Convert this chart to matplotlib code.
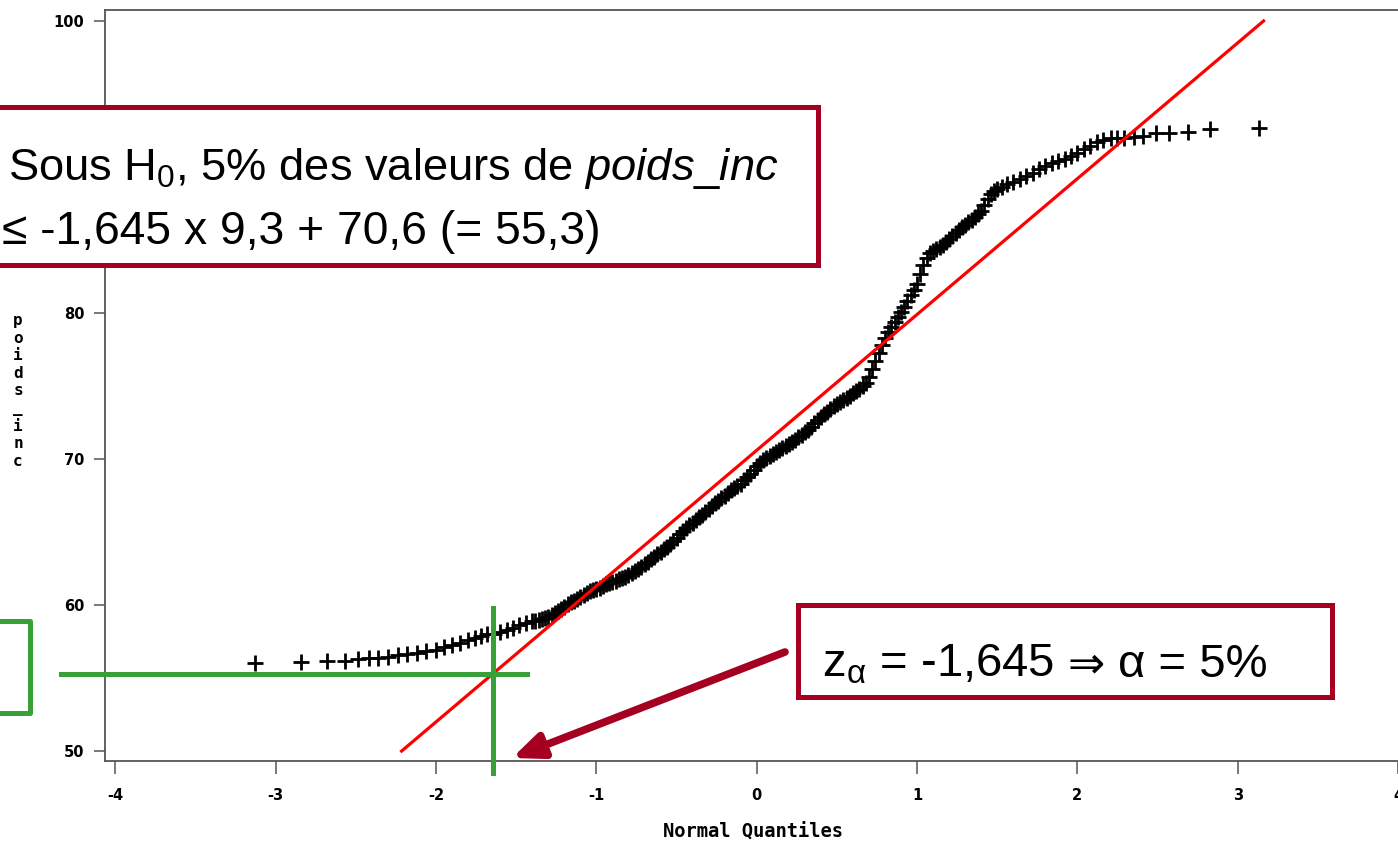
import numpy as np
import matplotlib.pyplot as plt
from matplotlib.patches import Rectangle

# QQ-plot of poids_inc against normal quantiles
quantiles = [-3.13, -2.84, -2.68, -2.57, -2.49, -2.42, -2.36, -2.30, -2.24, -2.18,
             -2.12, -2.06, -2.00, -1.95, -1.90, -1.85, -1.80, -1.76, -1.72, -1.68,
             -1.64, -1.60, -1.56, -1.52, -1.48, -1.44,
             -1.40, -1.38, -1.36, -1.34, -1.32, -1.30, -1.28, -1.26, -1.24, -1.22,
             -1.20, -1.18, -1.16, -1.14, -1.12, -1.10, -1.08, -1.06, -1.04, -1.02,
             -1.00, -0.98, -0.96, -0.94, -0.92, -0.90, -0.88, -0.86, -0.84, -0.82,
             -0.80, -0.78, -0.76, -0.74, -0.72, -0.70, -0.68, -0.66, -0.64, -0.62,
             -0.60, -0.58, -0.56, -0.54, -0.52, -0.50, -0.48, -0.46, -0.44, -0.42,
             -0.40, -0.38, -0.36, -0.34, -0.32, -0.30, -0.28, -0.26, -0.24, -0.22,
             -0.20, -0.18, -0.16, -0.14, -0.12, -0.10, -0.08, -0.06, -0.04, -0.02,
             0.00, 0.02, 0.04, 0.06, 0.08, 0.10, 0.12, 0.14, 0.16, 0.18,
             0.20, 0.22, 0.24, 0.26, 0.28, 0.30, 0.32, 0.34, 0.36, 0.38,
             0.40, 0.42, 0.44, 0.46, 0.48, 0.50, 0.52, 0.54, 0.56, 0.58,
             0.60, 0.62, 0.64, 0.66, 0.68, 0.70, 0.72, 0.74, 0.76, 0.78,
             0.80, 0.82, 0.84, 0.86, 0.88, 0.90, 0.92, 0.94, 0.96, 0.98,
             1.00, 1.02, 1.04, 1.06, 1.08, 1.10, 1.12, 1.14, 1.16, 1.18,
             1.20, 1.22, 1.24, 1.26, 1.28, 1.30, 1.32, 1.34, 1.36, 1.38,
             1.40, 1.42, 1.44, 1.46, 1.48, 1.50,
             1.53, 1.56, 1.60, 1.64, 1.68, 1.72, 1.76, 1.80, 1.84, 1.88,
             1.92, 1.96, 2.00, 2.04, 2.08, 2.12, 2.16, 2.21, 2.25, 2.29,
             2.35, 2.41, 2.49, 2.57, 2.69, 2.83, 3.13]
poids_inc = [56.0, 56.1, 56.2, 56.2, 56.3, 56.35, 56.4, 56.45, 56.55, 56.65,
             56.75, 56.85, 56.95, 57.1, 57.25, 57.4, 57.6, 57.75, 57.85, 58.0,
             58.05, 58.15, 58.3, 58.4, 58.6, 58.8,
             58.90, 58.93, 58.97, 59.02, 59.08, 59.15, 59.30, 59.45, 59.60, 59.75,
             59.90, 60.05, 60.18, 60.30, 60.42, 60.55, 60.68, 60.80, 60.93, 61.03,
             61.12, 61.20, 61.30, 61.42, 61.52, 61.58, 61.65, 61.75, 61.85, 61.95,
             62.05, 62.18, 62.32, 62.45, 62.60, 62.78, 62.95, 63.12, 63.30, 63.48,
             63.65, 63.82, 64.00, 64.20, 64.40, 64.62, 64.85, 65.08, 65.30, 65.50,
             65.65, 65.82, 66.00, 66.20, 66.40, 66.60, 66.80, 66.98, 67.15, 67.32,
             67.50, 67.68, 67.85, 68.00, 68.15, 68.32, 68.55, 68.78, 69.00, 69.25,
             69.50, 69.72, 69.90, 70.05, 70.20, 70.32, 70.45, 70.60, 70.75, 70.90,
             71.05, 71.18, 71.30, 71.48, 71.65, 71.82, 72.00, 72.22, 72.45, 72.68,
             72.90, 73.08, 73.25, 73.42, 73.60, 73.75, 73.90, 74.05, 74.20, 74.35,
             74.50, 74.65, 74.80, 74.98, 75.20, 75.60, 76.15, 76.70, 77.25, 77.80,
             78.30, 78.70, 79.05, 79.40, 79.75, 80.05, 80.40, 80.80, 81.20, 81.60,
             82.00, 82.70, 83.30, 83.80, 84.10, 84.25, 84.40, 84.52, 84.65, 84.85,
             85.05, 85.25, 85.50, 85.70, 85.88, 86.05, 86.20, 86.38, 86.55, 86.75,
             87.00, 87.40, 87.80, 88.15, 88.35, 88.50,
             88.65, 88.82, 89.00, 89.15, 89.40, 89.62, 89.85, 90.05, 90.25, 90.40,
             90.52, 90.72, 90.95, 91.20, 91.45, 91.70, 91.85, 92.0, 92.0, 92.0,
             92.05, 92.1, 92.3, 92.3, 92.4, 92.6, 92.7]

mu, sigma = 70.6, 9.3
z_alpha = -1.645
seuil = 55.3

x_ticks = [-4, -3, -2, -1, 0, 1, 2, 3, 4]
y_ticks = [50, 60, 70, 80, 90, 100]

plt.rcParams['axes.unicode_minus'] = False
plt.rcParams['mathtext.fontset'] = 'custom'
plt.rcParams['mathtext.rm'] = 'Liberation Sans'
plt.rcParams['mathtext.it'] = 'Liberation Sans:italic'

W, H = 1398, 841
bordeaux = '#a50021'
vert = '#38a038'
gris = '#555555'
police = ['Liberation Sans', 'DejaVu Sans']

fig = plt.figure(figsize=(W / 100, H / 100), dpi=100)

# main axes (right edge runs off the figure)
x_right = 4.3
ax = fig.add_axes([105 / W, 80 / H, (756 + x_right * 160.5 - 105) / W, 751 / H])
ax.set_xlim(-4.065, x_right)
ax.set_ylim(49.32, 100.75)

ax.plot(quantiles, poids_inc, '+', color='black', ms=12, mew=2.0, zorder=3)

q_line = np.array([(50 - mu) / sigma, (100 - mu) / sigma])
ax.plot(q_line, mu + sigma * q_line, color='red', lw=2.3, zorder=4)

# z_alpha / threshold crosshair
ax.plot([z_alpha, z_alpha], [48.5, 59.8], color=vert, lw=3.6, clip_on=False, zorder=5)
ax.plot([-4.34, -1.43], [seuil, seuil], color=vert, lw=3.6, clip_on=False, zorder=5)

for s in ['left', 'bottom', 'top', 'right']:
    ax.spines[s].set_color(gris)
    ax.spines[s].set_linewidth(1.3)

ax.set_xticks(x_ticks)
ax.set_yticks(y_ticks)
ax.tick_params(axis='x', direction='out', length=9.5, width=1.1, color=gris, pad=10)
ax.tick_params(axis='y', direction='out', length=8, width=1.1, color=gris, pad=7)
for lab in ax.get_xticklabels() + ax.get_yticklabels():
    lab.set_fontweight('bold')
    lab.set_fontsize(10.5)
    lab.set_family('DejaVu Sans')

fig.text(753 / W, 1 - 831 / H, 'Normal Quantiles', ha='center', va='center',
         family='DejaVu Sans Mono', fontsize=13.5, fontweight='bold')
fig.text(18 / W, 1 - 391 / H, '\n'.join('poids_inc'), ha='center', va='center',
         family='DejaVu Sans Mono', fontsize=11.5, fontweight='bold', linespacing=1.2)

# overlay in pixel coordinates for the callouts
ov = fig.add_axes([0, 0, 1, 1], zorder=10)
ov.set_xlim(0, W)
ov.set_ylim(H, 0)
ov.axis('off')
ov.patch.set_alpha(0)
renderer = fig.canvas.get_renderer()


def suite(x, y, s, **kw):
    # draw a text piece and return where the next one starts
    t = ov.text(x, y, s, va='baseline', ha='left', **kw)
    bb = t.get_window_extent(renderer=renderer)
    return ov.transData.inverted().transform((bb.x1, bb.y0))[0]


ov.add_patch(Rectangle((-10, 107), 828, 158, facecolor='white', edgecolor=bordeaux, lw=3.6))
ov.text(8, 180, 'Sous H$_0$, 5% des valeurs de $\\mathit{poids\\_inc}$', fontsize=32.6,
        family=police, va='baseline', ha='left')
ov.text(2, 244, '≤ -1,645 x 9,3 + 70,6 (= 55,3)', fontsize=33.3,
        family=police, va='baseline', ha='left')

ov.add_patch(Rectangle((798, 605), 534, 92, facecolor='white', edgecolor=bordeaux, lw=3.6))
x = suite(822, 677, 'z$_{\\mathrm{\\alpha}}$ = -1,645', fontsize=34, family=police)
x = suite(x + 13, 677, '⇒', fontsize=32, family='DejaVu Sans')
suite(x + 13, 677, 'α = 5%', fontsize=34, family=police)

ov.annotate('', xy=(512, 758), xytext=(785, 652),
            arrowprops=dict(arrowstyle='-|>,head_length=0.9,head_width=0.38',
                            color=bordeaux, lw=5.5, shrinkA=0, shrinkB=0,
                            mutation_scale=20))

ov.plot([-5, 30, 30, -5], [621, 621, 713, 713], color=vert, lw=3.6)

fig.savefig('out.png', dpi=100)
